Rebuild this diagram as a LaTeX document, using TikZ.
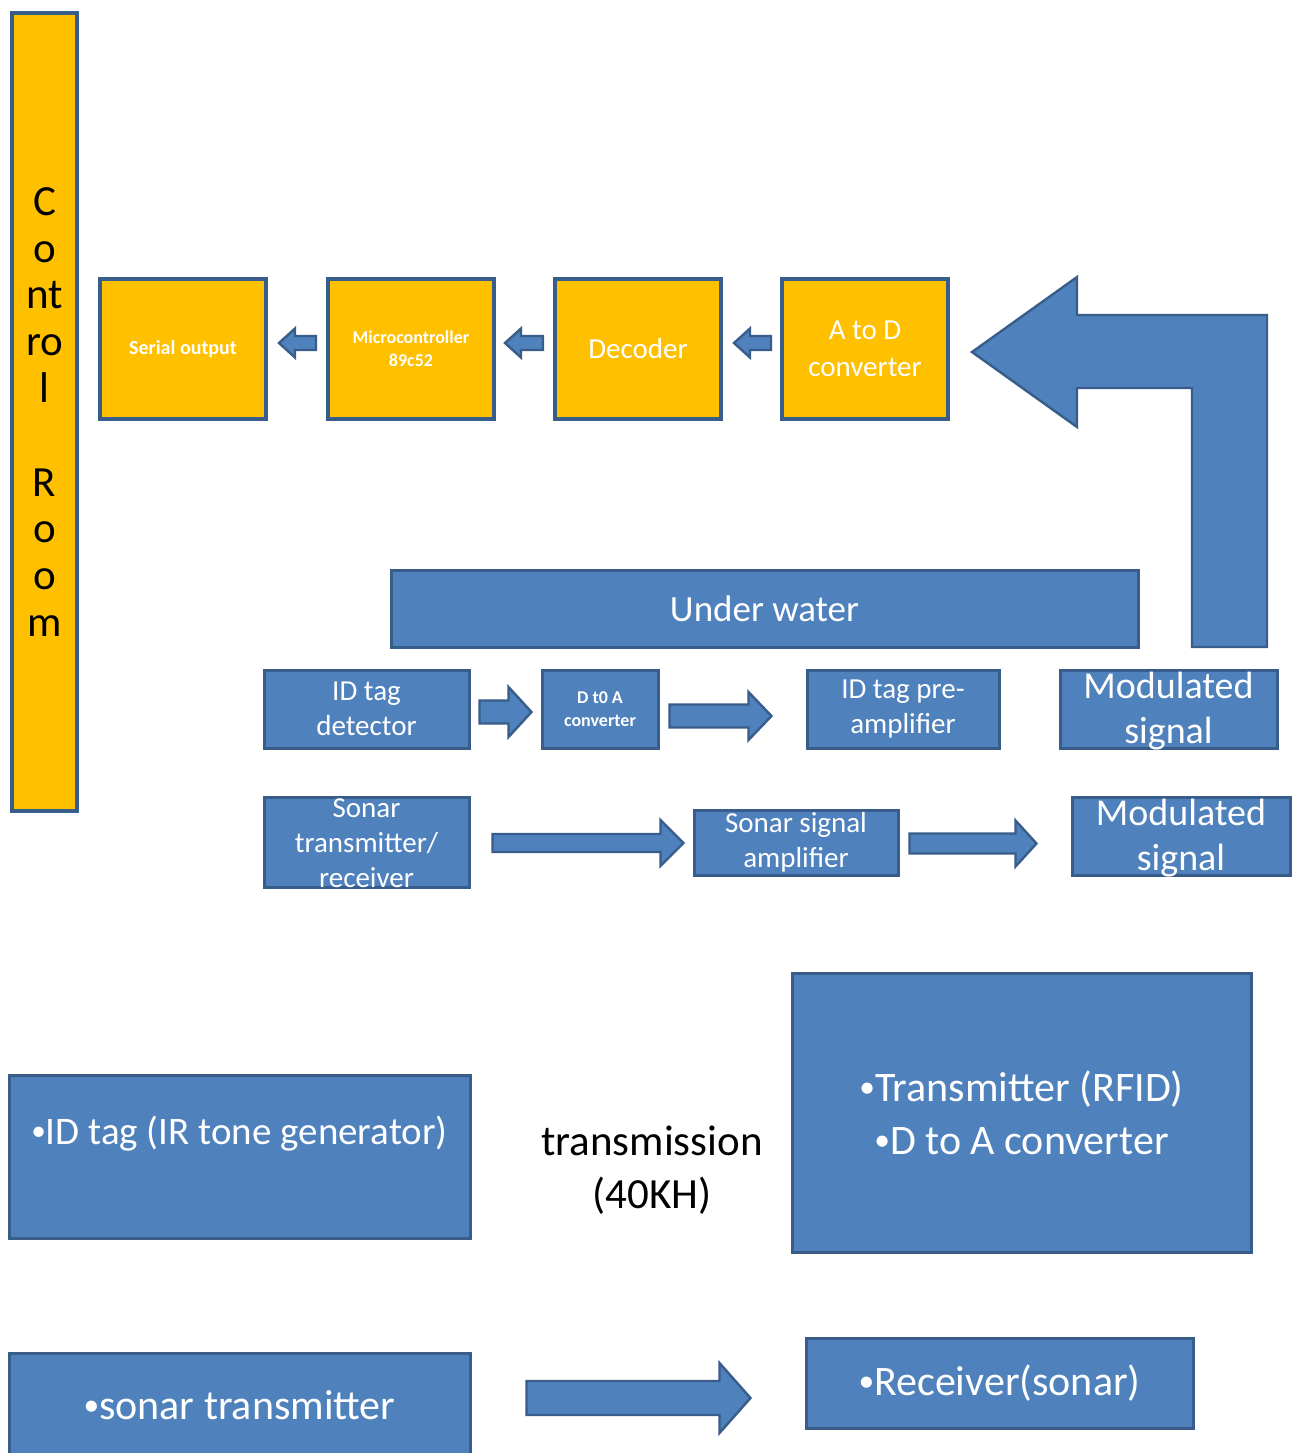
\documentclass[tikz,border=0pt]{standalone}
\usepackage{fontspec}
\usepackage{graphicx}
\setmainfont{Carlito}
\usetikzlibrary{calc}
\definecolor{orng}{HTML}{FFC000}
\definecolor{blu}{HTML}{4F81BD}
\definecolor{bdark}{HTML}{385D8A}

% compact list bullet
\newcommand\bul{\raisebox{.1em}{\scalebox{.75}{•}}}

% horizontal block arrow: #1 tail, #2 tip, #3 shaft half-height, #4 head half-height,
% #5 head length (signed: positive points right, negative points left); lengths in px units
\newcommand\blockarrow[5]{%
  \draw[barrow] let \p1=(#1), \p2=(#2), \n1={\x2-(#5)*0.5pt} in
    (\x1,{\y1+#3*0.5pt}) -- (\n1,{\y1+#3*0.5pt}) -- (\n1,{\y1+#4*0.5pt})
    -- (\x2,\y1) -- (\n1,{\y1-#4*0.5pt}) -- (\n1,{\y1-#3*0.5pt})
    -- (\x1,{\y1-#3*0.5pt}) -- cycle;}

\begin{document}
\begin{tikzpicture}[x=0.5pt,y=-0.5pt,
  obox/.style={draw=bdark, fill=orng, line width=2pt, inner sep=0pt, text=white, align=center},
  bbox/.style={draw=bdark, fill=blu, line width=1.5pt, inner sep=0pt, text=white, align=center},
  wtxt/.style={text=white, align=center, inner sep=0pt},
  barrow/.style={draw=bdark, fill=blu, line width=1.2pt, line join=miter},
  smallf/.style={font=\bfseries\fontsize{9}{11.5}\selectfont},
  medf/.style={font=\fontsize{14.5}{17.5}\selectfont},
  modf/.style={font=\fontsize{19}{22.5}\selectfont},
  bigf/.style={font=\fontsize{21}{26.5}\selectfont},
]
\useasboundingbox[fill=white] (0,0) rectangle (1301,1453);

% control room column
\node[obox, minimum width=32.5pt, minimum height=399pt, text=black,
      font=\fontsize{21.5}{23.4}\selectfont] (ctrl) at (44.5,412)
      {C\\o\\nt\\ro\\l\\\mbox{}\\R\\o\\o\\m};

% receiving chain in the control room
\node[obox, minimum width=83pt, minimum height=70pt, font=\bfseries\fontsize{10}{12}\selectfont]
      (ser) at (183,349) {Serial output};
\node[obox, minimum width=83pt, minimum height=70pt, smallf] (mcu) at (411,349) {Microcontroller\\89c52};
\node[obox, minimum width=83pt, minimum height=70pt, medf] (dec) at (638,349) {Decoder};
\node[obox, minimum width=83pt, minimum height=70pt, font=\fontsize{14.5}{18.5}\selectfont]
      (adc) at (865,349) {A to D\\converter};

\blockarrow{$(mcu.west)+(-10,-6)$}{$(ser.east)+(11,-6)$}{7}{14.5}{-16}
\blockarrow{$(dec.west)+(-10,-6)$}{$(mcu.east)+(9,-6)$}{7}{14.5}{-16}
\blockarrow{$(adc.west)+(-9,-6)$}{$(dec.east)+(11,-6)$}{7}{14.5}{-16}

% under water section
\node[bbox, minimum width=373.5pt, minimum height=38.5pt, font=\fontsize{18.5}{22}\selectfont]
      (uw) at (764.5,608.5) {Under water};

\node[bbox, minimum width=102.5pt, minimum height=39pt, medf] (idd) at (366.5,709) {ID tag\\detector};
\node[bbox, minimum width=58pt, minimum height=39pt, smallf] (dta) at (600,709) {D t0 A\\converter};
\node[bbox, minimum width=96pt, minimum height=39pt, medf] (pre) at (903,709) {ID tag pre-\\amplifier};
\node[bbox, minimum width=108.5pt, minimum height=39pt] (mod1) at (1168.5,709) {};
\node[wtxt, modf] (mod1t) at ($(mod1.center)+(0,2)$) {Modulated\\signal};

\node[bbox, minimum width=102.5pt, minimum height=45pt] (son) at (366.5,842) {};
\node[wtxt, medf] (sont) at ($(son.center)+(0,1)$) {Sonar\\transmitter/\\receiver};
\node[bbox, minimum width=102pt, minimum height=32.5pt, medf] (amp) at (796,842.5) {Sonar signal\\amplifier};
\node[bbox, minimum width=109pt, minimum height=39pt] (mod2) at (1181,836) {};
\node[wtxt, modf] (mod2t) at ($(mod2.center)+(0,2)$) {Modulated\\signal};

\blockarrow{$(idd.east)+(9,3)$}{$(dta.west)+(-9,3)$}{11.5}{25}{23}
\blockarrow{$(dta.east)+(10,7)$}{$(pre.west)+(-34,7)$}{11.5}{24}{23}
\blockarrow{$(son.east)+(22,1)$}{$(amp.west)+(-9,1)$}{9}{23}{23}
\blockarrow{$(amp.east)+(10,1)$}{$(mod2.west)+(-34,7)$}{10}{23}{21}

% return path up to the A to D converter
\draw[barrow] ($(adc.east)+(22,3)$) -- ++(105,-75) -- ++(0,38) -- ++(190,0) -- ++(0,332)
  -- ++(-75,0) -- ++(0,-259) -- ++(-115,0) -- ++(0,39) -- cycle;

% lower part: tag and transmission
\node[bbox, minimum width=230.5pt, minimum height=81.5pt] (idtag) at (239.5,1156.5) {};
\node[wtxt, font=\fontsize{19.5}{23}\selectfont] (idtagt) at ($(idtag.center)+(0,-23)$)
      {\bul ID tag (IR tone generator)};

\node[align=center, inner sep=0pt, text=black, font=\fontsize{21.5}{26.5}\selectfont]
      (trans) at (652,1170) {transmission\\(40KH)};

\node[bbox, minimum width=229.5pt, minimum height=139.5pt, bigf] (tx) at (1021.5,1112.5)
      {\bul Transmitter (RFID)\\\bul D to A converter};

\node[bbox, minimum width=230.5pt, minimum height=57pt] (stx) at (239.5,1410) {};
\node[wtxt, bigf] (stxt) at ($(stx.center)+(0,-5)$) {\bul sonar transmitter};
\node[bbox, minimum width=193.5pt, minimum height=45pt, bigf] (rx) at (999.5,1383) {\bul Receiver(sonar)};

\blockarrow{$(stx.east)+(55,-12)$}{$(rx.west)+(-54,15)$}{17}{35}{31}
\end{tikzpicture}
\end{document}
